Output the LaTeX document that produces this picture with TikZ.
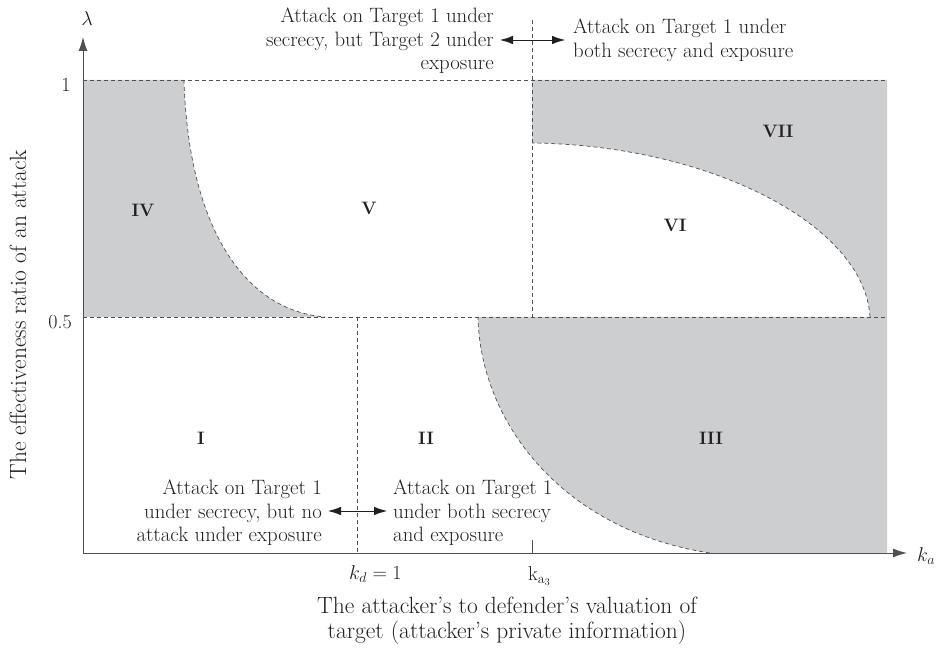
\RequirePackage{fix-cm}
\documentclass[tikz,border=0pt]{standalone}
\usepackage{fontspec}
\usetikzlibrary{arrows.meta}
\definecolor{zone}{RGB}{205,206,208}
\definecolor{ink}{RGB}{35,31,32}
\definecolor{rule}{RGB}{80,80,80}
\begin{document}
\begin{tikzpicture}[x=1pt,y=-1pt,
  divider/.style={draw=rule,line width=0.7pt,dash pattern=on 4pt off 3pt},
  axisline/.style={draw=rule,line width=1pt,-{Latex[length=14pt,width=9pt]}},
  twoway/.style={draw=ink,line width=0.8pt,{Latex[length=13pt,width=8.5pt]}-{Latex[length=13pt,width=8.5pt]}},
  roman/.style={text=ink,font=\fontsize{18}{20}\selectfont\bfseries,inner sep=0pt},
  note/.style={text=ink,font=\fontsize{20.8}{23.5}\selectfont,inner sep=0pt},
  axislab/.style={text=ink,font=\fontsize{23.5}{25}\selectfont,inner sep=0pt},
  ticklab/.style={text=ink,font=\fontsize{20}{22}\selectfont,inner sep=0pt},
]
\useasboundingbox (0,0) rectangle (937,652);

% shaded zones
\fill[zone] (83,80) -- (184,80) .. controls (188,220) and (240,310) .. (325,317) -- (83,317) -- cycle;
\fill[zone] (532,80) -- (887,80) -- (887,317) -- (870,317) .. controls (865,225) and (710,145) .. (532,143) -- cycle;
\fill[zone] (478,317) -- (887,317) -- (887,553) -- (710,553) .. controls (560,530) and (480,420) .. (478,317) -- cycle;

% zone boundaries
\draw[divider] (184,80) .. controls (188,220) and (240,310) .. (325,317);
\draw[divider] (870,317) .. controls (865,225) and (710,145) .. (532,143);
\draw[divider] (710,553) .. controls (560,530) and (480,420) .. (478,317);
\draw[divider] (83,80) -- (887,80);
\draw[divider] (83,317) -- (887,317);
\draw[divider] (532,20) -- (532,317);
\draw[divider] (357,317) -- (357,553);

% axes
\coordinate (O) at (83,553);
\coordinate (xend) at (907,553);
\coordinate (yend) at (83,37);
\draw[axisline] (O) -- (xend);
\draw[axisline] (O) -- (yend);
\draw[rule,line width=1pt] (532,540) -- (532,553);

\node[ticklab] (lam) at (87,19) {$\lambda$};
\node[ticklab] (ka) at (926,556) {$k_a$};
\node[ticklab] (one) at (66,85) {1};
\node[ticklab] (half) at (60,322) {0.5};
\node[ticklab,anchor=west] (kd) at (349,574) {$k_d = 1$};
\node[ticklab,anchor=west] (ka3) at (528,576) {$\mathrm{k}_{\mathrm{a}_3}$};

\node[axislab,rotate=90] (ylab) at (18,315) {The effectiveness ratio of an attack};
\node[axislab,align=center] (xlab) at (507,621) {The attacker's to defender's valuation of\\target (attacker's private information)};

% zone numerals
\node[roman] (r4) at (143,210) {IV};
\node[roman] (r5) at (369,208) {V};
\node[roman] (r6) at (675,225) {VI};
\node[roman] (r7) at (778,131) {VII};
\node[roman] (r1) at (201,438) {I};
\node[roman] (r2) at (426,438) {II};
\node[roman] (r3) at (711,438) {III};

% explanatory notes
\node[note,align=right,anchor=north east] (tl) at (494,8) {Attack on Target 1 under\\secrecy, but Target 2 under\\exposure};
\node[note,align=left,anchor=north west] (tr) at (573,19) {Attack on Target 1 under\\both secrecy and exposure};
\node[note,align=right,anchor=north east] (bl) at (322,480) {Attack on Target 1\\under secrecy, but no\\attack under exposure};
\node[note,align=left,anchor=north west] (br) at (393,480) {Attack on Target 1\\under both secrecy\\and exposure};

\coordinate (ta) at (500,40);
\coordinate (tb) at (565,40);
\coordinate (ba) at (328,511);
\coordinate (bb) at (387,511);
\draw[twoway] (ta) -- (tb);
\draw[twoway] (ba) -- (bb);
\end{tikzpicture}
\end{document}
